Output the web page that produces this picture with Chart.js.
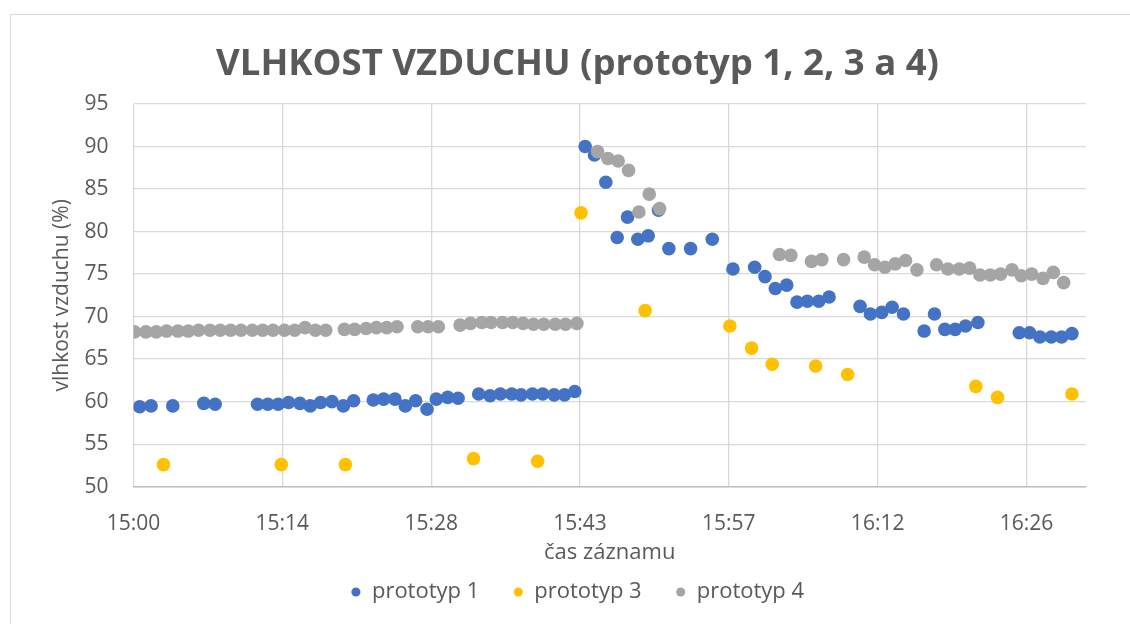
<!DOCTYPE html>
<html>
<head>
<meta charset="utf-8">
<script src="https://cdn.jsdelivr.net/npm/chart.js@4"></script>
<style>
  html, body { margin: 0; padding: 0; background: #fff; overflow: hidden; }
  #frame { position: absolute; left: 10px; top: 14px; width: 1200px; height: 700px; border: 1px solid #d9d9d9; }
  #wrap { position: absolute; left: 0; top: 0; width: 1130px; height: 624px; }
</style>
</head>
<body>
<div id="frame"></div>
<div id="wrap"><canvas id="c" width="1130" height="624"></canvas></div>
<script>
// Air humidity of the prototypes, x = minutes after 15:00, y = %.
const TEXT = '#595959';
const GRID = '#d9d9d9';
const FONT = "'Open Sans', 'Noto Sans', sans-serif";

const p1Time = [0.6, 1.7, 3.8, 6.8, 7.9, 12.0, 13.0, 14.0, 15.0, 16.1, 17.1, 18.1, 19.2, 20.3, 21.3,
  23.2, 24.2, 25.3, 26.3, 27.3, 28.4, 29.3, 30.4, 31.4, 33.4, 34.5, 35.5, 36.6, 37.5, 38.6, 39.6,
  40.7, 41.7, 42.7, 43.7, 44.6, 45.7, 46.8, 47.8, 48.8, 49.8, 50.8, 51.8, 53.9, 56.0, 58.0, 60.1,
  61.1, 62.1, 63.2, 64.2, 65.2, 66.3, 67.3, 70.3, 71.3, 72.4, 73.4, 74.5, 76.5, 77.5, 78.5, 79.5,
  80.5, 81.7, 85.7, 86.7, 87.7, 88.8, 89.8, 90.8];
const p1Hum = [59.4, 59.5, 59.5, 59.8, 59.7, 59.7, 59.7, 59.7, 59.9, 59.8, 59.5, 59.9, 60.0, 59.5, 60.1,
  60.2, 60.3, 60.3, 59.5, 60.1, 59.1, 60.3, 60.5, 60.4, 60.9, 60.7, 60.9, 60.9, 60.8, 60.9, 60.9,
  60.8, 60.8, 61.2, 90.0, 89.0, 85.8, 79.3, 81.7, 79.1, 79.5, 82.5, 78.0, 78.0, 79.1, 75.6, 75.8,
  74.7, 73.3, 73.7, 71.7, 71.8, 71.8, 72.3, 71.2, 70.3, 70.5, 71.1, 70.3, 68.3, 70.3, 68.5, 68.5,
  68.9, 69.3, 68.1, 68.1, 67.6, 67.6, 67.6, 68.0];

const p3Time = [2.9, 14.3, 20.5, 32.9, 39.1, 43.3, 49.5, 57.7, 59.8, 61.8, 66.0, 69.1, 81.5, 83.6, 90.8];
const p3Hum = [52.6, 52.6, 52.6, 53.3, 53.0, 82.2, 70.7, 68.9, 66.3, 64.4, 64.2, 63.2, 61.8, 60.5, 60.9];

const p4Time = [0.1, 1.2, 2.2, 3.2, 4.3, 5.3, 6.3, 7.4, 8.4, 9.4, 10.4, 11.5, 12.5, 13.5, 14.6, 15.6,
  16.6, 17.6, 18.6, 20.4, 21.4, 22.5, 23.5, 24.5, 25.5, 27.5, 28.5, 29.5, 31.6, 32.6, 33.7, 34.6,
  35.7, 36.7, 37.7, 38.7, 39.7, 40.8, 41.8, 42.9, 44.9, 45.9, 46.9, 47.9, 48.9, 49.9, 50.9, 62.5,
  63.6, 65.6, 66.6, 68.7, 70.7, 71.7, 72.7, 73.7, 74.7, 75.8, 77.7, 78.8, 79.9, 80.9, 81.9, 82.9,
  83.9, 85.0, 85.9, 86.9, 88.0, 89.0, 90.0];
const p4Hum = [68.2, 68.2, 68.2, 68.3, 68.3, 68.3, 68.4, 68.4, 68.4, 68.4, 68.4, 68.4, 68.4, 68.4, 68.4, 68.4,
  68.7, 68.4, 68.4, 68.5, 68.5, 68.6, 68.7, 68.7, 68.8, 68.8, 68.8, 68.8, 69.0, 69.2, 69.3, 69.3,
  69.3, 69.3, 69.2, 69.1, 69.1, 69.1, 69.1, 69.2, 89.4, 88.6, 88.3, 87.2, 82.3, 84.4, 82.7, 77.3,
  77.2, 76.5, 76.7, 76.7, 77.0, 76.1, 75.8, 76.2, 76.6, 75.5, 76.1, 75.6, 75.6, 75.7, 74.9, 74.9,
  75.0, 75.5, 74.8, 75.0, 74.5, 75.2, 74.0];

// Excel put a tick every 0.01 day (14.4 min)
const xTickLabels = ['15:00', '15:14', '15:28', '15:43', '15:57', '16:12', '16:26'];
const X_STEP = 14.4;
const X_MAX = 92.16;

const pts = (xs, ys) => xs.map((x, i) => ({ x, y: ys[i] }));

function series(label, xs, ys, color, order) {
  return {
    label,
    data: pts(xs, ys),
    backgroundColor: color,
    borderColor: color,
    borderWidth: 0,
    pointRadius: 6.8,
    pointHoverRadius: 6.8,
    pointStyle: 'circle',
    order,
  };
}

new Chart(document.getElementById('c'), {
  type: 'scatter',
  data: {
    datasets: [
      series('prototyp 1', p1Time, p1Hum, '#4472c4', 3),
      series('prototyp 3', p3Time, p3Hum, '#ffc000', 2),
      series('prototyp 4', p4Time, p4Hum, '#a5a5a5', 1),
    ],
  },
  options: {
    responsive: false,
    animation: false,
    layout: { padding: { left: 25, right: 0, top: 15, bottom: 11 } },
    plugins: {
      title: {
        display: true,
        text: 'VLHKOST VZDUCHU (prototyp 1, 2, 3 a 4)',
        color: TEXT,
        font: { family: FONT, size: 36.5, weight: '700', lineHeight: 1.2 },
        padding: { top: 28, bottom: 17.2 },
      },
      legend: {
        position: 'bottom',
        labels: {
          usePointStyle: true,
          boxWidth: 10,
          boxHeight: 6.4,
          padding: 34,
          color: TEXT,
          font: { family: FONT, size: 22 },
          sort: (a, b) => a.datasetIndex - b.datasetIndex,
        },
      },
      tooltip: { enabled: false },
    },
    scales: {
      x: {
        type: 'linear',
        min: 0,
        max: X_MAX,
        afterFit: s => { s.height = 60.3; },
        border: { display: true, color: '#bfbfbf', width: 1.5 },
        grid: { color: GRID, lineWidth: 1.3, drawTicks: false },
        ticks: {
          stepSize: X_STEP,
          includeBounds: false,
          padding: 25,
          maxRotation: 0,
          color: TEXT,
          font: { family: FONT, size: 21 },
          callback: v => xTickLabels[Math.round(v / X_STEP)] ?? '',
        },
        title: {
          display: true,
          text: 'čas záznamu',
          color: TEXT,
          font: { family: FONT, size: 22 },
          padding: { top: 0, bottom: -19 },
        },
      },
      y: {
        min: 50,
        max: 95,
        afterFit: s => { s.width = 108.5; },
        border: { display: false },
        grid: { color: GRID, lineWidth: 1.3, drawTicks: false },
        ticks: { stepSize: 5, padding: 25, color: TEXT, font: { family: FONT, size: 21 } },
        title: {
          display: true,
          text: 'vlhkost vzduchu (%)',
          color: TEXT,
          font: { family: FONT, size: 21 },
          padding: { top: 24.4, bottom: 0 },
        },
      },
      // empty right axis, only reserves the space right of the plot
      yRight: {
        position: 'right',
        display: true,
        afterFit: s => { s.width = 44; },
        border: { display: false },
        grid: { display: false, drawTicks: false },
        ticks: { display: false },
      },
    },
  },
});
</script>
</body>
</html>
